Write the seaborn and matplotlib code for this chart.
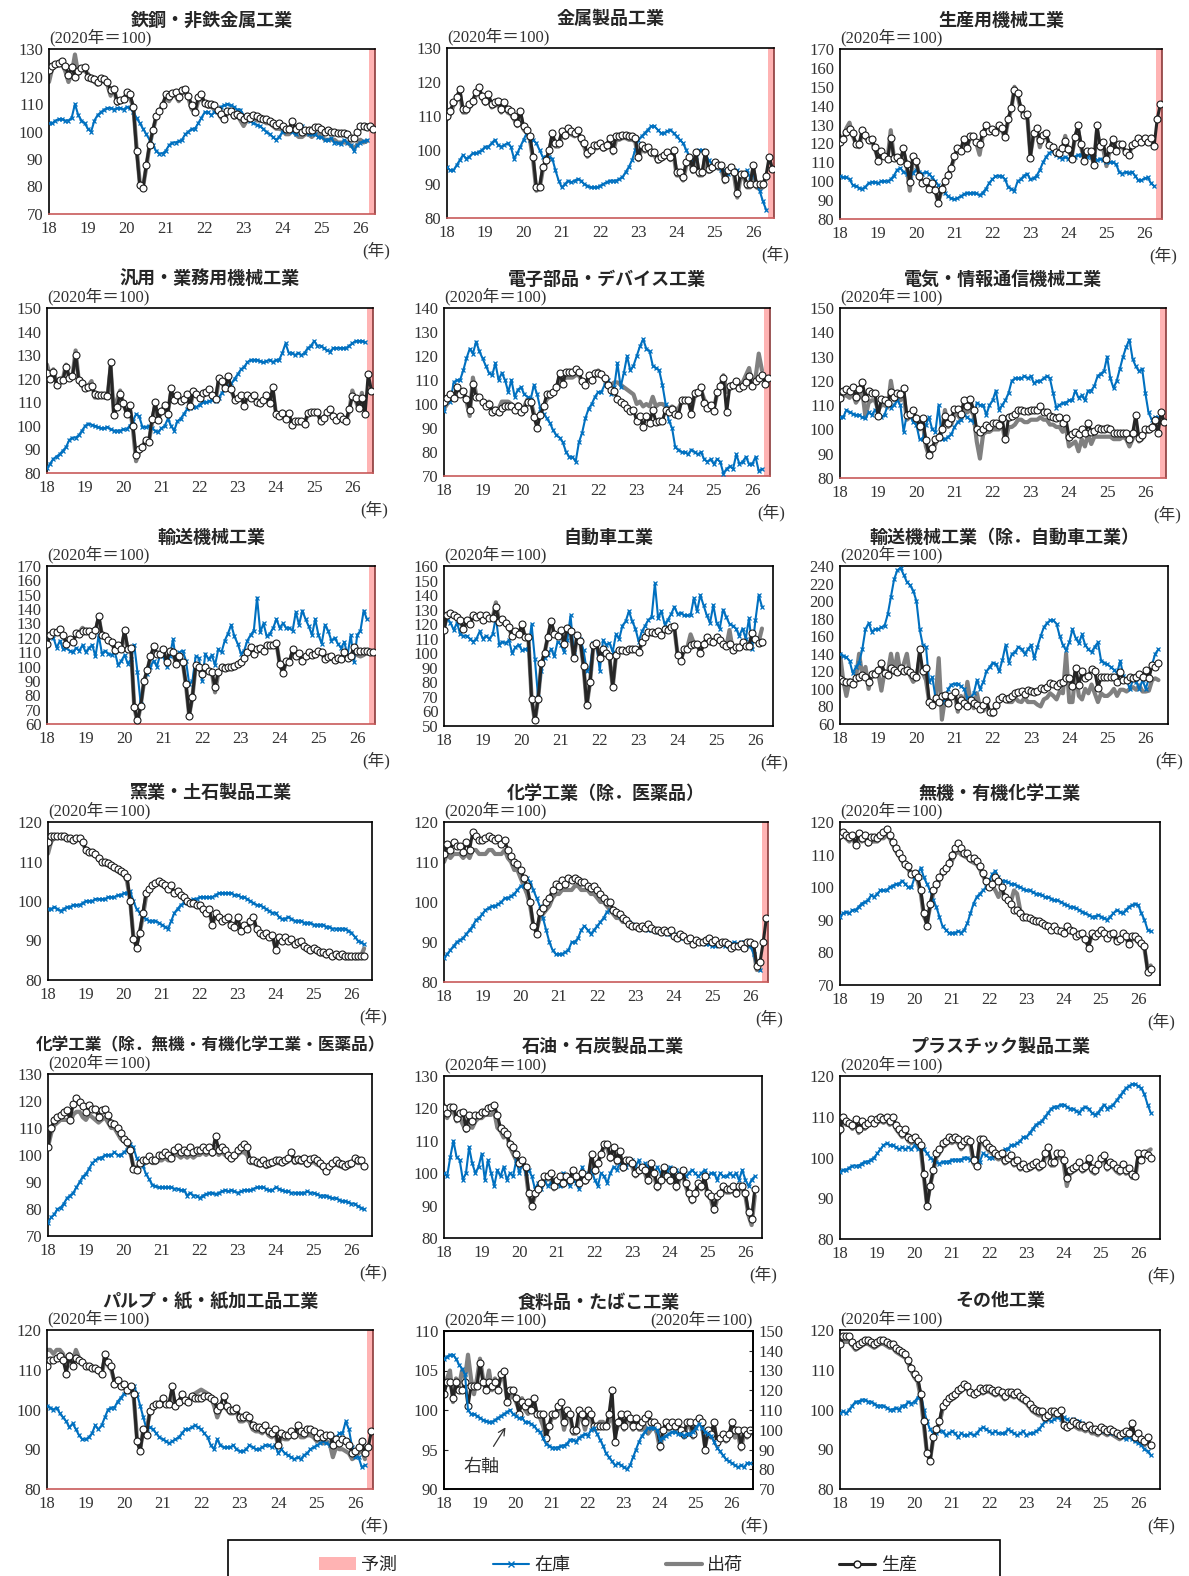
import numpy as np
import matplotlib
matplotlib.use("Agg")
import matplotlib.pyplot as plt
from matplotlib.lines import Line2D
from matplotlib.patches import Patch, Rectangle
import seaborn as sns


def vals(s):
    return [float(t) for t in s.split()]


# 鉄鋼・非鉄金属工業
tekko_prod = vals("""122.5 124 124.5 125 125.5 124 120.5 123.5 120 122 123 123.5 120 119.5 119 118 119.5 119 118 115 115.5 111
111.5 112 114.5 113.5 109 93 80.5 79.5 88 95 100.5 105.5 107.5 109.5 113.5 113 114 114.5 112.5 115 115.5 113 109.5 107 112.5
113.5 110.5 110 110 109.5 108 106.5 104.5 107.5 107.5 106 106.5 105.5 104.5 105.5 105 106 105.5 105 104.5 104.5 104 103 102.5
103 102 101 101 104 101 102 100 100.5 100.5 100.5 101.5 101.5 101 100 100.5 100 100 99.5 99.5 99.5 99 97.5 97.5 100 102 102
101.5 102 101""")
tekko_ship = vals("""118 123 124 124 124.5 122 118 121 128 121 123 122 121 119 118 117 119 118 117 113 116 110 111 111 113.5 112
109 94 81 80 87 95 100 105 107 110 112 111 113 113 111 114.5 114 112 108 107 111 112 110 109 109 108 107 105 104 107 107 105
106 104 102 104 104 105 104 104 104 103 103 102 101 101 100.5 99 99 102 99 98 98 99 99 98 99 99 98.5 97 97 97 97 96 96 96 96
95 94 95 97 96 96.5""")
tekko_inv = vals("""103 103 104 104.5 104.5 104 104 105 110 106 104 103 101 100 104 106 107 108 108.5 108.5 108 108.5 108.5 108
109 108.5 107 105 103 101 99 97 95 93 92 92 93 95 96 96 96.5 97 99 100 101 101 103 105 107 107 106 107 108 109 109.5 110 109.5
109 108 108 106 105 104 103 102.5 102 101 100 99 98 97 98 100 100.5 101 100 99 101 102 100 99 99 99 98 98 97 97 97.5 96 96 95.5
97 96 95 93 95 96 96.5 97""")

# 金属製品工業
kinzoku_prod = vals("""110 111.5 114 115.5 118 112 112 113.5 114.5 117 118.5 116 114.5 116.5 113.5 114 114.5 112 114 112 111.5
110 108 111.5 107 106 104 98 89 89 95 97 100 105 102 102 105.5 104.5 106.5 105.5 105 106 103.5 102 99 100 101.5 101.5 102 101
101.5 103.5 100 104 104 104.5 104.5 104 104 103.5 98 101.5 100.5 101 99.5 99.5 97.5 98 98.5 99.5 98 100 93.5 93.5 92 96.5 98
94.5 99.5 93.5 93.5 99.5 94.5 95 96.5 95.5 95.5 91.5 94 95 93.5 87.5 93 93 90 90 95.5 90 90 90 92.5 98 94.5""")
kinzoku_ship = vals("""109 110.5 113 114.5 117 111 111 112.5 113.5 116 117.5 115 113.5 115.5 112.5 113 113.5 111 113 111 110.5
109 107 110.5 106 105 103 97 88 88.5 94 96 99 104 101 101 104.5 103.5 105.5 104.5 104 105 102.5 101 98 99 100.5 100.5 101 100
100.5 102.5 99 103 103 103.5 103.5 103 103 102.5 97 100.5 99.5 100 98.5 98.5 96.5 97 97.5 98.5 97 99 92.5 92.5 91 95.5 97 93.5
98.5 92.5 92.5 98.5 93.5 94 95.5 94.5 94.5 90.5 93 94 92.5 86 92 92 89 89 94.5 89 88.5 89 91.5""")
kinzoku_inv = vals("""95 94 94 95.5 97 98.5 97.5 98 99 99 99.5 100 101 101 102 103 101.5 101 101.5 102 101 97.5 99 101 103 105
103 103 102 100 98 98 98 97.5 94 91 89 90 91 90.5 91 91.5 91 90 89.5 89 89 89 89.5 90 90.5 91 91 91 91.5 92 93.5 95 97 100 103
104 105 106 107 107 106 105 105 105.5 106 105 104 103 102 100 98 97 98 100 100 99 97 96 96 95 94 94 93 94 94 94 93 93 94 92 93
90 88 85 82.5""")

# 生産用機械工業
seisan_prod = vals("""120.5 122.5 126 127.5 125.5 119.5 119.5 127 124.5 122 122.5 118 110.5 116 113.5 111.5 123 112.5 113
110.5 117.5 109 99.5 113.5 110.5 102.5 99 100 96 99 95.5 88.5 96 100 103.5 107 113.5 117.5 116 122.5 117.5 124 124 121 119.5
125.5 130 126.5 127.5 126 129.5 128 123.5 133 139 148.5 146.5 139 135 135.5 112.5 125.5 128 122 124.5 125.5 119 118 115.5 115
117.5 121.5 117 112 123.5 129.5 119.5 110.5 116 116 108.5 129.5 118.5 120.5 111.5 117 122.5 116 119.5 119.5 115.5 114 119 120
123 120.5 123 121 123 118.5 133 141""")
seisan_ship = vals("""124 121 128 131 124 120 118 126 123 121 121 117 112 116 113 112 127 112 112 111 116 108 95 112 110 103
98 100 96 98 95 89 95 99 103 107 112 116 116 121 118 123 123 120 114 124 128 126 127 125 128 127 123 132 138 150 145 138 134
135 114 124 127 118 124 124 119 117 115 115 116 124 116 113 122 128 118 111 115 115 109 127 117 117 108 116 121 116 118 118
115 114 118 119 122 120 122 120 122 118""")
seisan_inv = vals("""102.5 102 102 101 98 97.5 96.5 96 97 99 99.5 99.5 99 100 100 100 101 103 106 107 105 104 103 104.5 106
105 104 105 104 102 100 98 96 94 92 91 90.5 91 92 93 94 93.5 94 93.5 92.5 94 96 99 101 102.5 103 102.5 101 97 96 95 100 101
103 104 101 101.5 103 106 110 113 115 116 114 113 112 113 112 112 113 114 114 115 113 113 113 111 112 111 110 110 110 109 105
104 105 104.5 105 103 100.5 100.5 101.5 102 99 97.5""")

# 汎用・業務用機械工業
hanyo_prod = vals("""122.5 120 123 117.5 119.5 119.5 125 120.5 121 130 119.5 118 116 116.5 117 113.5 113 113 113 112.5 127
104.5 108 113.5 109.5 105 109 100 87.5 90 91 94 93 103 110 102.5 106.5 109 105 116 111 113 110.5 111.5 113.5 108.5 115 113.5
112 114 114.5 115.5 113 111.5 120.5 119 116 121 115.5 111 112 113 108.5 113 112 113 110 109.5 111 113 109.5 116.5 105 104
105.5 103 105.5 100.5 102 102 102 101 105.5 106 106 106 102 103.5 106 107 104 102.5 104 103 102 107 112.5 112 107.5 112 105
122 115""")
hanyo_ship = vals("""126 121 124 118 119 120 126 120 121 132 119 117 116 117 119 112 112 113 113 112 125 106 111 115 109 106
108 99 85 89 91 94 93 101 109 103 106 108 106 114 110 112 110 111 112 108 114 113 112 113 114 115 113 111 119 118 116 119 115
111 111 112 109 112 111 112 110 109 110 112 109 115 105 104 106 103 105 101 102 102 102 101 105 106 106 106 102 103 105 107
104 102 104 103 102 106 115 111 107 114 105""")
hanyo_inv = vals("""82 84 86 87 88 89.5 91 94 95 95 96 98 100 101 100.5 100 99.5 99 99 99.5 98.5 98 98 98 98.5 98.5 100 102
105 104 99.5 99.5 100 99 98 97.5 99 100 103 100 98 102 103 105 107 107.5 108 108 109 110 110 110.5 111 110.5 112 114 116 117
118 120 122 124 125 127 128 128 128 127.5 127 127.5 128 127 128 128 131 135 131 131 130 131 130 131 133 134 136 134 134 133
132 131.5 133 133 133 133 133 134 135 136 136 136 135.5""")

# 電子部品・デバイス工業
denshi_prod = vals("""101 102.5 104 102.5 107 104 105.5 102 97.5 108.5 103 103 101 99 100 96.5 97.5 96.5 98.5 99 99 99 97.5
99 96.5 98 101 101 94.5 90 95.5 99 104 104 105 107 113 108.5 113.5 113.5 113.5 114.5 113.5 109.5 108 112 110 113 113 112.5 111
108 106 105.5 102 101 100 98.5 97 97.5 93 95 90.5 95 92 97.5 92.5 93 93 97.5 96.5 98 96 95.5 101.5 101.5 101.5 96 104.5 105
107 100.5 98.5 99.5 97 105 107.5 111 96.5 107.5 108 109.5 106.5 107.5 109 111.5 107.5 109.5 111 112 108.5 111""")
denshi_ship = vals("""98 100 103 102 106 104 104 101 95 111 104 103 101 100 101 98 98 98 101 101 101 100 98 100 98 99 102
101 96 92 96 99 102 103 104 106 111 110 111 111 111 112 112 109 108 111 109 112 114 112 110 107 108 109 109 108 107 106 105
104 100 101 99 100 99 103 99 100 100 99 98 99 98 98 101 101 102 97 103 104 106 102 100 100 98 104 107 112 105 108 108 110 108
109 112 115 108 111 121 114""")
denshi_inv = vals("""97 103 101 109 110 110 114 119 123 121 126 122 119 116 113 112 117 110 113 110 105 110 103 106 107 104
103 102 108 104 98 96 94 92 89 87 86 84 80 78 78 76 84 88 94 98 100 103 105 105 108 110 104 107 117 107 113 120 114 116 120
124 127 123 122 116 115 114 108 100 93 90 82 81 80 80 79 81 80 79 80 77 76 77 75 77 76 71 73 74 73 79 75 76 78 75 75 78 72 73""")

# 電気・情報通信機械工業
denki_prod = vals("""113 116 116.5 116 117.5 113.5 116.5 119.5 113 116 115 115 105.5 112.5 112 111 115.5 113.5 115 114.5 117
106 106.5 108 104.5 101.5 104.5 95.5 89.5 92.5 96 97 100 105.5 102.5 104.5 108.5 108.5 106.5 112 109.5 112.5 108 100 99 100
102 101 102.5 102.5 102 104.5 96 105 105.5 106.5 108 108 107.5 107.5 108 108 108 109.5 107 107 105.5 105 104.5 105 102.5 104.5
97 98 99 98 100 98.5 102.5 99 99.5 100.5 100 100 100.5 100 98.5 98.5 98.5 98.5 98.5 96 98.5 106 96.5 97.5 100 100 101 104 98.5
107 103""")
denki_ship = vals("""112 114 114 113 115 111 113 116 105 111 112 112 108 110 110 109 120 112 113 112 115 104 105 106 103 100
103 93 89 91 94 97 99 108 101 102 106 106 104 109 107 108 106 95 88 98 99 99 100 100 100 102 95 101 101 102 104 104 103 103 104
104 104 105 104 104 102 102 101 101 99 101 93 94 95 91 96 93 98 94 97 97 97 97 97 97 96 96 96 97 96 93 96 101 95 96 99 99 100
101 100""")
denki_inv = vals("""105 105 108 107 106.5 106 106 105 104.5 107 106 108 106 105 106 110 109 110 112 110 99 106 106 103 102 96
96 102 105 100 99 110 96 96 97 98 101 103 104 106 105 104 103 111 110 110 106 110 112 116 108 110 112 115 120 121 121 121 122
121 122 119 120 120 121 122 121 115 109 110 111 111 112 112 116 113 114 112 116 116 118 122 123 124 130 121 117 120 125 130 134
137 129 126 124 125 115 107 104 105 105""")

# 輸送機械工業
yuso_prod = vals("""115.5 122 124 124 126 122 116 119 117 123.5 122.5 124.5 124.5 124.5 122 125.5 135.5 122 121.5 118.5 117
111.5 115 112.5 125.5 112.5 113 71.5 62.5 72.5 90 97.5 107 114 109 108.5 112 103 111 110 101.5 107 103 88 65.5 79 101 100 94.5
99.5 97 96.5 85.5 96.5 99.5 99 99.5 100 100.5 101.5 103.5 106 110 113.5 108.5 112 113 110.5 115 115 115 116.5 102 95.5 104 103
112 107 109.5 104 107 110 108 108.5 110.5 110 105 106.5 107.5 104.5 106 105.5 110 106 107 113.5 111 111 111 110.5 110 110""")
yuso_ship = vals("""118 121 123 123 125 121 117 118 117 123 124 127 124 124 121 124 134 122 121 118 116 112 114 112 123 112
112 72 61 73 89 97 106 112 109 108 111 104 110 109 102 106 103 87 66 79 100 99 93 99 97 96 82 95 99 99 99 100 100 101 103 105
109 112 108 111 112 110 114 114 115 116 102 96 103 103 110 106 108 104 106 109 107 108 109 109 105 106 106 104 105 105 108 106
106 112 108 107 108 110""")
yuso_inv = vals("""117 122 120 113 118 112 113 111 110 113 111 115 110 113 115 107 122 109 111 109 108 110 101 104 108 102
105 115 96 74 90 95 100 104 100 108 107 100 107 119 103 110 111 104 88 90 107 106 90 109 105 108 101 112 110 118 123 129 121
116 109 111 118 122 125 148 124 130 121 123 127 133 127 130 127 127 125 138 129 139 133 128 122 133 122 116 129 125 118 120 116
113 117 108 122 103 122 125 139 133""")

# 自動車工業
jidosha_prod = vals("""116 126.5 127.5 126 125 123 116.5 123 120 126.5 125 126 123 126 124.5 124.5 131.5 121.5 123.5 120.5 118
112 115.5 113 120 111 111 68.5 54 68.5 93 100.5 111.5 122.5 113.5 112 116 106.5 117.5 115.5 96.5 112.5 108.5 91.5 64.5 80 105.5
107 96.5 103 100 98 77 98.5 102.5 102 101.5 103 103 103 101 108 111 114.5 114.5 114 115 112.5 117 116 118 118.5 98.5 94.5 103
103 106 106.5 106.5 100 106.5 111 108.5 108 111 109 106.5 105 106.5 102.5 104 104.5 108 105 105 114 110 107 108""")
jidosha_ship = vals("""118 126 127 125 124 122 117 122 120 126 125 126 123 126 124 124 135 121 123 120 117 112 115 112 119 111
110 69 53 69 92 100 111 121 113 111 115 107 116 114 97 111 108 91 64 80 104 106 96 102 99 97 77 98 102 102 101 102 102 102 101
107 110 113 113 113 114 112 116 115 117 117 99 95 103 104 113 107 106 101 106 110 108 108 110 108 106 104 116 102 104 104 107
104 105 113 110 108 117""")
jidosha_inv = vals("""116 124 121 116 121 113 112 112 110 108 110 115 110 112 110 113 125 106 108 107 109 100 104 106 102 103
103 120 96 70 88 97 99 103 98 108 106 101 109 126 101 110 110 102 88 90 107 107 88 109 106 107 101 113 110 119 122 129 122 117
108 115 119 123 125 148 124 129 120 123 127 132 127 128 126 126 126 138 129 140 133 126 121 133 121 117 130 125 120 119 117 112
117 110 124 103 123 140 132""")

# 輸送機械工業（除．自動車工業）
yusoex_prod = vals("""111 109 108 108 106 112 114 116 113 108 117 117 121 130 118 116 124 122 119 124 120 122 119 116 114 145
120 124 85 82 90 85 92 93 84 92 97 80 87 84 80 87 84 82 77 82 87 74 74 82 88 91 89 90 92 95 97 98 94 99 98 96 98 101 100 102 107
106 103 107 108 112 112 103 124 104 120 112 115 123 120 101 114 113 113 113 114 108 119 110 110 114 112 113 117 114 121 112 127
125 130""")
yusoex_ship = vals("""140 110 92 110 108 112 140 115 125 100 118 120 118 98 120 118 140 118 140 118 128 140 115 108 112 135
118 110 85 80 88 135 65 90 85 92 95 74 92 80 108 86 78 95 78 75 80 72 70 82 85 92 88 85 85 90 86 85 90 85 85 85 82 80 88 90 95
92 88 97 95 140 85 85 120 92 88 100 95 105 95 85 95 92 92 95 100 92 99 99 97 100 102 99 104 97 97 98 110 112 110""")
yusoex_inv = vals("""140 138 136 132 118 125 130 145 168 175 165 168 168 170 172 185 205 225 235 238 230 222 218 212 200 168
150 148 108 113 90 88 85 88 100 105 106 106 103 100 90 90 95 110 100 108 120 125 130 128 120 133 150 130 140 142 148 145 140
145 150 135 148 160 170 175 178 178 174 160 150 144 153 168 158 152 162 150 145 142 148 153 132 130 128 125 122 118 132 115 110
100 110 108 100 110 100 112 128 140 145""")

# 窯業・土石製品工業
yogyo_prod = vals("""115 116.5 116.5 116.5 116.5 116.5 116 116 115.5 116 116 115 113 112.5 112.5 112 111 110 110 109.5 109
108.5 108 107.5 107 106 100 90.5 88 92 97 102 103 104 104.5 105 104.5 104 103 104 102 102.5 101.5 101 100 99.5 99.5 99 99 98 97
98 94 97 96 95 95.5 96 94 93.5 96 92.5 94 93 95 96 93 92 91.5 92 91 91.5 87.5 91 90 91 90 90.5 89 89.5 90 88.5 88 87.5 88 87.5
87 87 86.5 87 86 86.5 86 86.5 86 86 86 86 86 86 86""")
yogyo_ship = vals("""112 115 116 116 116 116 115.5 115.5 115 115.5 115.5 114.5 113 112 112 111.5 110.5 109.5 109.5 109 108.5
108 107.5 107 106.5 105 100 91 89 92 96 101 102.5 103.5 104 104.5 104 103.5 102.5 103.5 101.5 102 101 100.5 99.5 99 99 98.5 98.5
97.5 96.5 97.5 94 96.5 95.5 94.5 95 95.5 93.5 93 95.5 92 93.5 92.5 94.5 95.5 92.5 91.5 91 91.5 90.5 91 88 90.5 89.5 90.5 89.5 90
88.5 89 89.5 88 87.5 87 87.5 87 86.5 86.5 86 86.5 85.5 86 85.5 86 85.5 85.5 85.5 85.5 85.5 86 88""")
yogyo_inv = vals("""98 98 98.5 98 97.5 98 98.5 98.5 99 99 99 99.5 100 100 100 100.5 100.5 100.5 100.5 101 101 101 101.5 101.5
102 102 102.5 100 98 97 96 95.5 95 95 95 94.5 94 93.5 93 95 97 98 99 99.5 100 100 100.5 100.5 101 101 101 101 101 101.5 102 102
102 102 102 101.5 101.5 101 101 100.5 100 99.5 99 99 98.5 98 97.5 97 97 96 95.5 95.5 96 95.5 95 95 95 94.5 94.5 94.5 94 94 94 94
93.5 93.5 93 93 93 93 93 92.5 92 91 90 89.5 89""")

# 化学工業（除．医薬品）
kagaku_prod = vals("""112 114.5 113 115 114 114 112.5 115 113 117.5 116.5 115.5 115.5 116 116.5 116 115.5 116 114.5 115.5 113
111.5 110 109.5 108 106 104 100 94 92 97.5 98.5 100 101 103 104.5 104 105.5 104.5 106 105.5 106 105.5 105 105 104 103.5 104 103
102 101 100 100 98 97.5 97 96 95.5 94.5 94 94 93.5 94 93.5 94.5 93.5 93 93 92.5 93 92.5 93 91.5 91 92 91.5 90.5 91 89.5 90.5 90
90 90.5 91 90 90.5 89.5 90 90 89.5 88.5 89 89 89.5 88.5 90 90 89.5 84 85 90 96""")
kagaku_ship = vals("""110 112 111 112 112 112 111 112 111 113 113 112 112 112 113 113 112 112 112 113 111 110 108 108 106 104
102 99 94 93 96 97 98 99 101 102 102 103 103 103 103 104 104 103 103 103 102 102 101 100 100 99 98 97 96 96 95 95 94 93.5 93.5
93 93.5 93 93.5 93 92.5 92.5 92 92.5 92 92.5 91 91 91.5 91 90.5 90.5 89.5 90 90 90 90.5 90.5 90 90 89.5 89.5 89.5 89 88.5 88.5
88.5 89 88 89 89 88 83 83""")
kagaku_inv = vals("""86 87 88 89 90 90.5 91 92 93 94 95.5 96 97 98 98.5 99 99 99.5 100 101 101 101.5 102 103 104 104 106 105
103 101 99 96 93 90 88 87 87 87 87.5 88 90 90 91 93 94 93 92 93 94 95 96 97.5 98 98 97.5 96.5 96 95.5 95 94.5 94 93.5 93.5 93.5
93 93 93 92.5 92.5 92.5 92 92 92 91.5 91 91 91 90.5 90.5 90 90 90 89.5 89.5 89 89 89.5 89.5 89 89 89.5 90 89.5 90 90 89.5 89 87
84 83""")

# 無機・有機化学工業
muki_prod = vals("""116 117 116 115.5 116 113 116.5 115 116 114 115.5 115.5 115 116 117 118 116 114 112 110.5 109 107 106.5
104 104.5 103 99 92 88 95 99 101 103 105 106 107.5 110 112 113.5 112 110.5 110.5 109 109 108 106.5 104.5 102 100 101 103 102 100
97 96 95 93 93 92 91 91 90.5 90 89.5 89.5 89 88.5 88 87 88 87 86.5 86 88 87 86.5 85 85.5 86 84 81.5 86 85 86 87 86 84.5 85.5 86
83.5 84 86 85 82.5 85 85 84 83 82 74 75""")
muki_ship = vals("""115 116 115 114 115 113 115 114 115 113 114 114 114 115 115 116 115 113 111 109.5 108 106.5 105.5 103.5
103 102 98 91 89 94 98 100 102 104 105 106 108 110 111 110 109.5 109 108 107.5 107 105.5 103.5 101.5 100 100.5 99 97 99 97.5 96
95.5 99 98 93 91.5 91 90 89.5 89 89 88.5 88 87.5 87 87.5 86.5 86 85.5 87 86.5 86 84.5 85 85.5 83.5 82 85 84.5 85 86 85.5 84 85
85.5 83 83.5 85 84.5 82.5 84 84 83 82 81 75 76""")
muki_inv = vals("""91 92 92.5 92 93 93 94 95 95.5 96 97.5 97 98 99 99 99 100 100.5 101 101 102 101 100 100 103 104 106 103
101 99 96 94 91 88 87 86 86 86 86.5 86 87 89 92 95 97 98 99 100 102 104 105 103 102 102 101.5 101 101 100.5 100 99.5 99 99 98.5
98 98 97.5 97 97 96.5 96 96 95.5 95 94.5 94 94 93.5 93 92.5 92 91.5 91 91 91.5 91 90.5 90 91 92 93 92.5 92 93 94 94.5 95 94.5 92
90 87 86.5""")

# 化学工業（除．無機・有機化学工業・医薬品）
kagaku2_prod = vals("""103 110 113 114 115 116 116.5 113 119 121 119.5 118 116 118.5 117 117 114 116.5 117 115 112 111.5 110
108 106 105 102 95 94.5 97 98 98 99.5 98 98 100 100 101 100 99 102 103 101 102 101 103 101 102 102 103 102 103 101 107 102 103
102 100 99 100 102 103 104 103 98 98 97.5 97 98 96.5 97 97.5 98 98 97.5 98 99 101 98 98.5 98 99 97 98.5 99 98 97 96 94 96 97 98
97 96.5 96 96.5 97 99 98 98 96""")
kagaku2_ship = vals("""103 108 111 112 113 113 113 112 115 116 116 114 113 115 114 113 112 113 114 112 110 110 108 106 105
104 101 96 95 97 97 97 98 97 97 98 98 99 98 98 100 100 99 100 99 100 99 100 100 101 100 101 100 103 100 101 100 99 98 99 100 101
101 100 97 97 96.5 96 96.5 95.5 96 96.5 97 97 96.5 97 97.5 99 97 97.5 97 97.5 96 97 97.5 96.5 96 95 93.5 95 96 96.5 96 95.5 95
95.5 96 97.5 97 97 96""")
kagaku2_inv = vals("""75 77 78 80 80.5 82 84 85 86 88 90 92 93 95 97 98 99 99 100 100 100 101 100 100 101 102 104 103 99 97
96 93 91 89 88.5 88 88 88 88 88 87.5 87.5 87 87 85 86 85 85 84 85 85.5 86 86 85.5 86 86.5 87 86.5 87 86.5 86 86.5 87 87 87 87.5
88 88 88 87.5 87 87 88 87.5 87 86.5 86.5 86 86 86 86 86 86.5 86 86 85.5 85 85 85 84.5 84 84 83.5 83 83 82.5 82 82 81 80.5 80""")

# 石油・石炭製品工業
sekiyu_prod = vals("""120 118.5 120.5 120.5 117 118.5 119 114 118 116 118 118 119 119 120 120.5 121 118 114 113 112 109 108
106 103 104 102 94 90 94 95 97 99 99 100 96 98 99 97 99 98 101 99 97 100 98 99 106 101 103 106 109 109 105 108 104 107 102 104
104 103 100 101 102 101 98 103 100 96 98 102 99 98 101 96 99 101 97 94 92 94 97 96 99 94 93 89 93 94 96 95 95 96 94 96 96 94 88
86 95""")
sekiyu_ship = vals("""121 117 119 119 116 117 115 113 116 114 116 117 117 118 118 118 119 114 113 111 112 108 106 104 102 103
101 93 90 93 94 96 98 98 99 95 97 98 96 98 97 100 98 96 99 97 98 104 100 103 106 108 108 104 107 103 106 101 103 103 102 99 100
101 100 97 102 99 95 97 101 98 97 100 95 98 100 96 93 91 93 96 95 98 93 92 88 92 93 95 94 94 95 93 95 95 93 87 84 93""")
sekiyu_inv = vals("""100 99 105 110 105 104 98 100 108 103 100 102 106 98 104 100 96 101 99 102 98 100 99 104 100 103 100
101 99 95 97 95 98 96 97 98 97 96 100 98 96 98 97 95 102 98 100 101 98 96 100 99 97 100 102 101 103 103 102 104 104 102 104 101
103 102 101 100 102 100 101 100 102 99 101 100 99 99 100 101 100 99 100 101 99 100 100 98 100 99 99 100 99 100 98 101 98 96 98 99""")

# プラスチック製品工業
plastic_prod = vals("""107 110 109 108.5 108 109.5 107 109 108 108.5 109.5 108.5 109.5 110 109.5 110 109 110 108 107 106 107
105 104.5 105 104 103 96 88 93 97 101 102 103.5 104 105 104.5 105 104.5 103 104 104.5 104 99.5 98 104.5 104.5 103.5 102.5 102
101 100.5 101 99.5 100 100.5 99 99.5 98 98.5 97.5 98 98.5 99 98 98.5 101 102.5 99 99 101 101 99.5 95 97 97.5 98 99 97.5 98 100
97.5 97 98.5 100 100.5 98 99 98.5 97.5 97 98.5 97 97.5 96 95.5 101 99.5 101 100.5 100""")
plastic_ship = vals("""106 109 108 108 107 108.5 106 108 107 108 108.5 108 108.5 109 108.5 109 108 109 107 106 105 106 104
103.5 104 103 102 95 88.5 93 96.5 100 101 102.5 103 104 103.5 104 103.5 102 103 103.5 103 98.5 97.5 103.5 103.5 102.5 101.5 101
100 99.5 100 98.5 99 99.5 98 98.5 97 97.5 97 97 97.5 98 97 97.5 100 101.5 98 98 100 100 98.5 93 96 96.5 97 98 96.5 97 99 96.5 96
97.5 99 99.5 97 98 97.5 96.5 96 97.5 96 96.5 95 95 100 99 101 101.5 102""")
plastic_inv = vals("""96.5 97 97 97.5 98 98 98 98.5 99 99 99.5 100 101 102 103 103.5 103 103 102.5 102 102.5 102 102.5 102
103 102 103 102 101 100 99.5 99 98.5 99 99 99 99.5 99.5 99.5 99.5 100 100 99.5 100 100 99 101 100.5 100 100 100.5 101 101 102 102
103 103 103.5 104 105 105 106 107 108 108.5 109 110 111 112 112.5 112.5 113 113 112.5 112 112 111.5 111 112 112.5 112 111 110.5
111 112 113 112 112.5 113 114 115 116 117 117.5 118 118 117.5 117 115.5 113 111""")

# パルプ・紙・紙加工品工業
pulp_prod = vals("""111 112.5 112.5 113 113.5 112.5 109 113.5 111 113 112.5 112 111 111 110.5 110.5 110 109 114 112 111 106.5
107.5 106 106.5 105 106 104 92 89.5 95 93.5 99.5 101 101.5 101.5 103 101.5 101.5 106 101 102 104 102.5 102 103.5 103 103 103 103.5
103.5 103 102.5 100 101 103.5 101 100 100 100.5 98 98 98.5 98 96 95.5 95.5 95 96 94.5 94 95 91 94 93.5 93.5 94.5 93.5 96 94.5 94
95 95 94.5 93 94 93 93.5 93.5 91 92.5 91.5 92.5 92 91 89 89.5 90.5 92 89 90.5 94.5""")
pulp_ship = vals("""115 115 114 115 115 114 111 114 112 115 113 112 111 110.5 110.5 110 109.5 108.5 113 111 110 107 107 106
106 105 106 103 93 90 95 95 99 100 101 101 102 101.5 101.5 104 101 102 103 102.5 102.5 103.5 104 104.5 105 104.5 104 103 101 98
100 101 100 99 99 99.5 97 97 97.5 97 95 94.5 94.5 94 95 93.5 93 94 91 93 92.5 92.5 93.5 93 94.5 93 93 93.5 93.5 93 92 92.5 91.5
92 91.5 88 90.5 90 90 89.5 89 87.5 88 89 90 87.5""")
pulp_inv = vals("""101 100.5 100 100.5 99 98 97 95.5 96.5 95 93.5 92.5 92.5 93 94 96 95 96 98 100 100.5 100.5 102 103 104
104.5 106 106 104 101 98 95 95.5 95 94 93 92.5 92 91.5 92 92.5 93 94 95 95 95.5 96 95.5 95 94 93 91 90 92.5 91 90.5 90.5 90.5 91
90 89.5 89.5 90 91 90.5 90 90 90.5 91 91 90.5 91 89 90 89 88.5 88 87.5 88 87.5 88.5 89 90 90.5 91 91.5 92 91.5 91 92 93 94 94 97
95 90.5 88 88 85.5 86""")

# 食料品・たばこ工業（在庫は右軸）
shokuryo_prod = vals("""102 103.5 103.5 101.5 103.5 102.5 102.5 103.5 100.5 103 103 103 106 103.5 102.5 103.5 103 103.5 102.5
104.5 105 101 102.5 102.5 101.5 99.5 101 100.5 101 100 101.5 99.5 99.5 99.5 96.5 98 99.5 99.5 100.5 101 98.5 100 99.5 97.5 97.5
100 99.5 98.5 100 99.5 98 98 98 98 98 99.5 102.5 96 98.5 99.5 98 99.5 99 98 99 98 98.5 99 99.5 98.5 98.5 98 95.5 97.5 98.5 98
98.5 98 98.5 97.5 97 98.5 98.5 97 98.5 99 98.5 95 97.5 97 98.5 96 96.5 97 96.5 97 98.5 97.5 97.5 95.5 97.5 97 97.5""")
shokuryo_ship = vals("""103 104 105 101 104 103 105 104 107 104 102 104 106.5 104 103 105 102.5 104 103 104 104 101.5 101.5
102 101 100 101.5 100 99.5 100.5 101 99.5 99 98 96.5 98 99 99 100 100 97.5 99 99.5 97 97 99 99 97.5 99 99 97.5 98 98.5 98.5 98
98.5 99.5 97 98 99 97.5 99 98.5 97.5 98.5 97.5 97.5 98 97 97.5 98 97 95 97 98 97.5 98 97.5 98 97 96.5 98 98 96.5 98 98.5 98 95.5
97 96.5 98 96 96.5 96.5 96 96.5 98 96.5 97 95 97 96.5 97""")
shokuryo_inv = vals("""136 137 138 138 136 133 131 128 110 108 108 107 106 105 104.5 104 104 105 106 107 108 109 110 108 107
106 106 104 104 103 102 100 99 96 93 92 91 91 91 92 92 93 95 95 94 96 97 98 97 100 101 98 95 92 88 86 84 82 83 82 81 80 82 86 90
94 97 99 101 101 101 100 95 96 97 98 99 99 98 98 97 98 98 99 101 103 101 99 98 97 94 91 89 87 85 84 83 82 81 82 81 83 83""")

# その他工業
sonota_prod = vals("""116.5 118.5 118.5 118.5 117 116 116.5 117 117.5 117.5 117 116.5 117 117.5 117.5 117 116.5 116.5 115.5
115 114.5 114 112.5 110.5 109 108 104 97 89 87 93 95 97 101 102 103 103.5 104 105 105.5 106.5 106 104.5 104 104.5 105.5 105 105.5
105.5 105 104.5 105 104.5 103.5 104.5 104.5 104 104.5 103.5 103 102.5 101.5 100.5 100 99.5 99.5 98 98.5 99.5 99.5 99 100 96 95.5
96 97 96.5 96 96 95.5 96 95 95 94.5 95.5 95 94.5 95 94.5 94 93.5 94 94.5 94 96.5 93 94 92.5 92 93 91""")
sonota_ship = vals("""116 117 117 117 116 115 115.5 116 116.5 116.5 116 115.5 116 116.5 116.5 116 115.5 115.5 114.5 114 113.5
113 111.5 109.5 108 107 103 96 89 87.5 92.5 94.5 96.5 100 101 102 102.5 103 104 104.5 105.5 105 104 103.5 104 104.5 104 104.5
104.5 104 103.5 104 103.5 102.5 103.5 103.5 103 103.5 102.5 102 101.5 100.5 99.5 99 98.5 98.5 97 97.5 98.5 98.5 98 99 95.5 95
95.5 96 95.5 95 95 94.5 95 94 94 93.5 94.5 94 93.5 94 93.5 93 92.5 93 93.5 93 95 92 93 91.5 91 92 90.5""")
sonota_inv = vals("""99 99.5 99 100 101 102 102 102.5 102.5 102 102 101.5 101 101 101 100.5 100 100 100.5 100 101 101 102 101.5
102 103 104 100 97 95 94 94 94.5 94.5 93.5 94 94.5 94 93 94 93.5 93.5 94 93.5 94 95 95.5 95 94.5 94 94.5 94 94 94 95 94.5 94 93.5
94 94.5 93.5 94 94 94.5 95 96 97 97.5 97 97.5 98 97.5 98 97.5 97 97.5 97 97 96.5 96 95.5 95 95 95 95 94.5 94.5 94 94 93.5 93.5 93
92.5 93 92.5 92 91.5 91 90 89.5 88.5""")

year_labels = ["18", "19", "20", "21", "22", "23", "24", "25", "26"]

W, H = 1189, 1576
BLUE, GRAY, BLACK, PINK = "#0070C0", "#808080", "#262626", "#FFB3B3"
JP = ["Noto Sans CJK JP", "DejaVu Sans"]
MIX = ["Liberation Serif", "Noto Sans CJK JP"]

# title, data, (left, top, right, bottom) in px, y range, forecast band, x max
panels = [
    ("鉄鋼・非鉄金属工業", tekko_prod, tekko_ship, tekko_inv, (49, 49, 375, 214), (70, 130, 10), True, None),
    ("金属製品工業", kinzoku_prod, kinzoku_ship, kinzoku_inv, (447, 48, 774, 218), (80, 130, 10), True, None),
    ("生産用機械工業", seisan_prod, seisan_ship, seisan_inv, (840, 49, 1162, 219), (80, 170, 10), True, None),
    ("汎用・業務用機械工業", hanyo_prod, hanyo_ship, hanyo_inv, (47, 308, 373, 473), (80, 150, 10), True, None),
    ("電子部品・デバイス工業", denshi_prod, denshi_ship, denshi_inv, (444, 308, 770, 476), (70, 140, 10), True, None),
    ("電気・情報通信機械工業", denki_prod, denki_ship, denki_inv, (840, 308, 1166, 478), (80, 150, 10), True, None),
    ("輸送機械工業", yuso_prod, yuso_ship, yuso_inv, (47, 566, 375, 724), (60, 170, 10), True, None),
    ("自動車工業", jidosha_prod, jidosha_ship, jidosha_inv, (444, 566, 773, 726), (50, 160, 10), False, 101.4),
    ("輸送機械工業（除．自動車工業）", yusoex_prod, yusoex_ship, yusoex_inv, (840, 566, 1168, 724), (60, 240, 20), False, 103),
    ("窯業・土石製品工業", yogyo_prod, yogyo_ship, yogyo_inv, (48, 822, 372, 980), (80, 120, 10), False, 102.5),
    ("化学工業（除．医薬品）", kagaku_prod, kagaku_ship, kagaku_inv, (444, 822, 768, 982), (80, 120, 10), True, None),
    ("無機・有機化学工業", muki_prod, muki_ship, muki_inv, (840, 822, 1160, 985), (70, 120, 10), False, 103),
    ("化学工業（除．無機・有機化学工業・医薬品）", kagaku2_prod, kagaku2_ship, kagaku2_inv, (48, 1074, 372, 1236), (70, 130, 10), False, 102.5),
    ("石油・石炭製品工業", sekiyu_prod, sekiyu_ship, sekiyu_inv, (444, 1076, 762, 1238), (80, 130, 10), False, 101.3),
    ("プラスチック製品工業", plastic_prod, plastic_ship, plastic_inv, (840, 1076, 1160, 1239), (80, 120, 10), False, 103),
    ("パルプ・紙・紙加工品工業", pulp_prod, pulp_ship, pulp_inv, (47, 1330, 373, 1489), (80, 120, 10), True, None),
    ("食料品・たばこ工業", shokuryo_prod, shokuryo_ship, shokuryo_inv, (444, 1331, 753, 1489), (90, 110, 5), False, 103),
    ("その他工業", sonota_prod, sonota_ship, sonota_inv, (840, 1330, 1160, 1489), (80, 120, 10), False, 103),
]

sns.set_theme(style="white")
plt.rcParams["font.family"] = MIX
plt.rcParams["axes.linewidth"] = 1.2

fig = plt.figure(figsize=(W / 100, H / 100), dpi=100)

TICK_FS = 12
NOTE_FS = 12
for title, prod, ship, inv, (l, t, r, b), (ylo, yhi, ystep), band, xmax in panels:
    ax = fig.add_axes([l / W, 1 - b / H, (r - l) / W, (b - t) / H])
    if xmax is None:
        xmax = len(prod) - 0.5
    if band:
        ax.axvspan(len(inv) - 0.5, xmax, color=PINK, lw=0, zorder=0)

    sns.lineplot(x=np.arange(len(ship)), y=ship, ax=ax, color=GRAY, linewidth=3.0, zorder=2)
    inv_ax = ax
    if title.startswith("食料品"):
        inv_ax = ax.twinx()
        inv_ax.set_ylim(70, 150)
        inv_ax.set_yticks(np.arange(70, 151, 10))
        inv_ax.tick_params(axis="y", direction="in", length=3, width=0.8, pad=4,
                           labelsize=TICK_FS, labelcolor="#333333")
        for s in inv_ax.spines.values():
            s.set_color("black")
            s.set_linewidth(1.2)
    sns.lineplot(x=np.arange(len(inv)), y=inv, ax=inv_ax, color=BLUE, linewidth=1.5,
                 marker="x", markersize=3.5, markeredgewidth=0.9,
                 markeredgecolor=BLUE, zorder=3)
    sns.lineplot(x=np.arange(len(prod)), y=prod, ax=ax, color=BLACK, linewidth=2.2,
                 marker="o", markersize=5, markerfacecolor="white",
                 markeredgecolor="#1a1a1a", markeredgewidth=0.8, zorder=4)
    if inv_ax is not ax:
        inv_ax.set_ylabel("")
        inv_ax.set_xlim(0, xmax)

    ax.set_xlim(0, xmax)
    ax.set_ylim(ylo, yhi)
    ax.set_yticks(np.arange(ylo, yhi + 0.1, ystep))
    ax.set_xticks(np.arange(0, 97, 12))
    ax.set_xticklabels(year_labels)
    ax.set_xlabel("")
    ax.set_ylabel("")
    ax.tick_params(axis="both", direction="in", length=3, width=0.8, labelsize=TICK_FS,
                   labelcolor="#333333")
    ax.tick_params(axis="x", pad=5)
    ax.tick_params(axis="y", pad=4)
    for s in ax.spines.values():
        s.set_color("black")
        s.set_linewidth(1.2)
    if band:
        ax.spines["bottom"].set_color("#c85a5a")
        ax.spines["right"].set_color("#8b3a3a")

    cx = (l + r) / 2 / W
    title_fs = 12 if len(title) > 16 else 13
    fig.text(cx, 1 - (t - 29) / H, title, ha="center", va="center", fontsize=title_fs,
             fontweight="bold", family=JP)
    fig.text(l / W, 1 - (t - 11) / H, "(2020年＝100)", ha="left", va="center",
             fontsize=NOTE_FS, color="#333333", family=MIX)
    fig.text((r + 15) / W, 1 - (b + 37) / H, "(年)", ha="right", va="center",
             fontsize=NOTE_FS, color="#333333", family=MIX)
    if title.startswith("食料品"):
        fig.text(r / W, 1 - (t - 11) / H, "(2020年＝100)", ha="right", va="center",
                 fontsize=NOTE_FS, color="#333333", family=MIX)
        ax.annotate("", xy=(21, 98.1), xytext=(16, 95.1),
                    arrowprops=dict(arrowstyle="->", color="#333333", lw=0.9))
        ax.text(12.5, 92.8, "右軸", ha="center", va="center", fontsize=13,
                color="#333333", family=JP)

# legend box (runs off the bottom edge like the original)
fig.add_artist(Rectangle((228 / W, -0.01), 772 / W, (H - 1540) / H + 0.01,
                         transform=fig.transFigure, fill=False, lw=1.2, ec="black"))
handles = [
    Patch(facecolor=PINK, edgecolor="none"),
    Line2D([], [], color=BLUE, lw=1.5, marker="x", markersize=4),
    Line2D([], [], color=GRAY, lw=3.0),
    Line2D([], [], color=BLACK, lw=2.2, marker="o", markersize=5,
           markerfacecolor="white", markeredgecolor="#1a1a1a"),
]
fig.legend(handles, ["予測", "在庫", "出荷", "生産"], loc="center",
           bbox_to_anchor=(618 / W, 1 - 1565 / H), ncol=4, frameon=False,
           columnspacing=5.3, handlelength=2.0, handletextpad=0.3,
           prop={"family": JP, "size": 13})

fig.savefig("out.png", dpi=100)
